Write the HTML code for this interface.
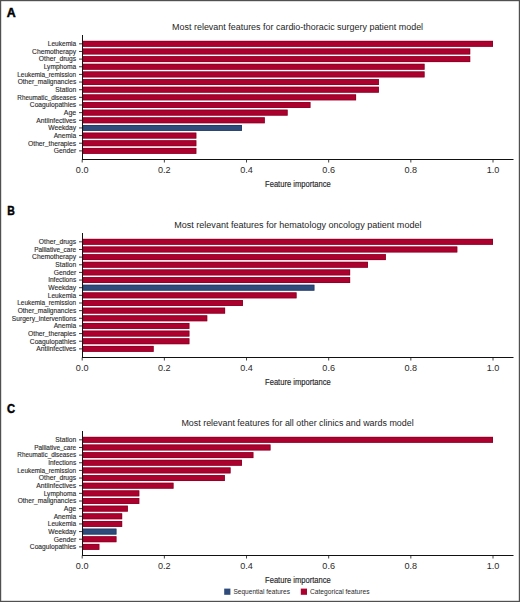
<!DOCTYPE html>
<html><head><meta charset="utf-8"><style>
html,body{margin:0;padding:0;background:#fff;}
svg{display:block;}
</style></head><body>
<svg width="520" height="602" viewBox="0 0 520 602">
<rect x="0" y="0" width="520" height="602" fill="#fff"/>
<text transform="translate(6.8,16.6) scale(1.04,1)" font-size="11.9" font-weight="bold" fill="#000" stroke="#000" stroke-width="0.45" font-family="Liberation Sans, sans-serif">A</text>
<text x="172.10" y="30" font-size="8.9" fill="#1e1e1e" textLength="251.00" lengthAdjust="spacingAndGlyphs" font-family="Liberation Sans, sans-serif">Most relevant features for cardio-thoracic surgery patient model</text>
<rect x="82.5" y="40.87" width="410.50" height="5.90" fill="#ac002f"/>
<rect x="82.9" y="41.27" width="409.70" height="5.10" fill="none" stroke="#80001f" stroke-width="0.8" stroke-opacity="0.7"/>
<line x1="79.00" x2="82.20" y1="43.82" y2="43.82" stroke="#111" stroke-width="0.8"/>
<text x="76.20" y="46.12" font-size="6.6" fill="#2a2a2a" stroke="#2a2a2a" stroke-width="0.12" text-anchor="end" textLength="28.35" lengthAdjust="spacingAndGlyphs" font-family="Liberation Sans, sans-serif">Leukemia</text>
<rect x="82.5" y="48.52" width="387.68" height="5.90" fill="#ac002f"/>
<rect x="82.9" y="48.92" width="386.88" height="5.10" fill="none" stroke="#80001f" stroke-width="0.8" stroke-opacity="0.7"/>
<line x1="79.00" x2="82.20" y1="51.47" y2="51.47" stroke="#111" stroke-width="0.8"/>
<text x="76.20" y="53.77" font-size="6.6" fill="#2a2a2a" stroke="#2a2a2a" stroke-width="0.12" text-anchor="end" textLength="44.15" lengthAdjust="spacingAndGlyphs" font-family="Liberation Sans, sans-serif">Chemotherapy</text>
<rect x="82.5" y="56.16" width="387.68" height="5.90" fill="#ac002f"/>
<rect x="82.9" y="56.56" width="386.88" height="5.10" fill="none" stroke="#80001f" stroke-width="0.8" stroke-opacity="0.7"/>
<line x1="79.00" x2="82.20" y1="59.11" y2="59.11" stroke="#111" stroke-width="0.8"/>
<text x="76.20" y="61.41" font-size="6.6" fill="#2a2a2a" stroke="#2a2a2a" stroke-width="0.12" text-anchor="end" textLength="37.35" lengthAdjust="spacingAndGlyphs" font-family="Liberation Sans, sans-serif">Other<tspan dy="-0.7">_</tspan><tspan dy="0.7">drugs</tspan></text>
<rect x="82.5" y="63.81" width="342.03" height="5.90" fill="#ac002f"/>
<rect x="82.9" y="64.21" width="341.23" height="5.10" fill="none" stroke="#80001f" stroke-width="0.8" stroke-opacity="0.7"/>
<line x1="79.00" x2="82.20" y1="66.76" y2="66.76" stroke="#111" stroke-width="0.8"/>
<text x="76.20" y="69.06" font-size="6.6" fill="#2a2a2a" stroke="#2a2a2a" stroke-width="0.12" text-anchor="end" textLength="32.55" lengthAdjust="spacingAndGlyphs" font-family="Liberation Sans, sans-serif">Lymphoma</text>
<rect x="82.5" y="71.46" width="342.03" height="5.90" fill="#ac002f"/>
<rect x="82.9" y="71.86" width="341.23" height="5.10" fill="none" stroke="#80001f" stroke-width="0.8" stroke-opacity="0.7"/>
<line x1="79.00" x2="82.20" y1="74.41" y2="74.41" stroke="#111" stroke-width="0.8"/>
<text x="76.20" y="76.71" font-size="6.6" fill="#2a2a2a" stroke="#2a2a2a" stroke-width="0.12" text-anchor="end" textLength="58.95" lengthAdjust="spacingAndGlyphs" font-family="Liberation Sans, sans-serif">Leukemia<tspan dy="-0.7">_</tspan><tspan dy="0.7">remission</tspan></text>
<rect x="82.5" y="79.11" width="296.39" height="5.90" fill="#ac002f"/>
<rect x="82.9" y="79.51" width="295.59" height="5.10" fill="none" stroke="#80001f" stroke-width="0.8" stroke-opacity="0.7"/>
<line x1="79.00" x2="82.20" y1="82.06" y2="82.06" stroke="#111" stroke-width="0.8"/>
<text x="76.20" y="84.36" font-size="6.6" fill="#2a2a2a" stroke="#2a2a2a" stroke-width="0.12" text-anchor="end" textLength="58.55" lengthAdjust="spacingAndGlyphs" font-family="Liberation Sans, sans-serif">Other<tspan dy="-0.7">_</tspan><tspan dy="0.7">malignancies</tspan></text>
<rect x="82.5" y="86.75" width="296.39" height="5.90" fill="#ac002f"/>
<rect x="82.9" y="87.15" width="295.59" height="5.10" fill="none" stroke="#80001f" stroke-width="0.8" stroke-opacity="0.7"/>
<line x1="79.00" x2="82.20" y1="89.70" y2="89.70" stroke="#111" stroke-width="0.8"/>
<text x="76.20" y="92.00" font-size="6.6" fill="#2a2a2a" stroke="#2a2a2a" stroke-width="0.12" text-anchor="end" textLength="20.85" lengthAdjust="spacingAndGlyphs" font-family="Liberation Sans, sans-serif">Station</text>
<rect x="82.5" y="94.40" width="273.57" height="5.90" fill="#ac002f"/>
<rect x="82.9" y="94.80" width="272.77" height="5.10" fill="none" stroke="#80001f" stroke-width="0.8" stroke-opacity="0.7"/>
<line x1="79.00" x2="82.20" y1="97.35" y2="97.35" stroke="#111" stroke-width="0.8"/>
<text x="76.20" y="99.65" font-size="6.6" fill="#2a2a2a" stroke="#2a2a2a" stroke-width="0.12" text-anchor="end" textLength="58.85" lengthAdjust="spacingAndGlyphs" font-family="Liberation Sans, sans-serif">Rheumatic<tspan dy="-0.7">_</tspan><tspan dy="0.7">diseases</tspan></text>
<rect x="82.5" y="102.05" width="227.92" height="5.90" fill="#ac002f"/>
<rect x="82.9" y="102.45" width="227.12" height="5.10" fill="none" stroke="#80001f" stroke-width="0.8" stroke-opacity="0.7"/>
<line x1="79.00" x2="82.20" y1="105.00" y2="105.00" stroke="#111" stroke-width="0.8"/>
<text x="76.20" y="107.30" font-size="6.6" fill="#2a2a2a" stroke="#2a2a2a" stroke-width="0.12" text-anchor="end" textLength="46.35" lengthAdjust="spacingAndGlyphs" font-family="Liberation Sans, sans-serif">Coagulopathies</text>
<rect x="82.5" y="109.69" width="205.10" height="5.90" fill="#ac002f"/>
<rect x="82.9" y="110.09" width="204.30" height="5.10" fill="none" stroke="#80001f" stroke-width="0.8" stroke-opacity="0.7"/>
<line x1="79.00" x2="82.20" y1="112.64" y2="112.64" stroke="#111" stroke-width="0.8"/>
<text x="76.20" y="114.94" font-size="6.6" fill="#2a2a2a" stroke="#2a2a2a" stroke-width="0.12" text-anchor="end" textLength="12.35" lengthAdjust="spacingAndGlyphs" font-family="Liberation Sans, sans-serif">Age</text>
<rect x="82.5" y="117.34" width="182.28" height="5.90" fill="#ac002f"/>
<rect x="82.9" y="117.74" width="181.48" height="5.10" fill="none" stroke="#80001f" stroke-width="0.8" stroke-opacity="0.7"/>
<line x1="79.00" x2="82.20" y1="120.29" y2="120.29" stroke="#111" stroke-width="0.8"/>
<text x="76.20" y="122.59" font-size="6.6" fill="#2a2a2a" stroke="#2a2a2a" stroke-width="0.12" text-anchor="end" textLength="39.85" lengthAdjust="spacingAndGlyphs" font-family="Liberation Sans, sans-serif">Antiinfectives</text>
<rect x="82.5" y="124.99" width="159.46" height="5.90" fill="#2e4b7c"/>
<rect x="82.9" y="125.39" width="158.66" height="5.10" fill="none" stroke="#1d3358" stroke-width="0.8" stroke-opacity="0.7"/>
<line x1="79.00" x2="82.20" y1="127.94" y2="127.94" stroke="#111" stroke-width="0.8"/>
<text x="76.20" y="130.24" font-size="6.6" fill="#2a2a2a" stroke="#2a2a2a" stroke-width="0.12" text-anchor="end" textLength="27.85" lengthAdjust="spacingAndGlyphs" font-family="Liberation Sans, sans-serif">Weekday</text>
<rect x="82.5" y="132.64" width="113.81" height="5.90" fill="#ac002f"/>
<rect x="82.9" y="133.04" width="113.01" height="5.10" fill="none" stroke="#80001f" stroke-width="0.8" stroke-opacity="0.7"/>
<line x1="79.00" x2="82.20" y1="135.59" y2="135.59" stroke="#111" stroke-width="0.8"/>
<text x="76.20" y="137.89" font-size="6.6" fill="#2a2a2a" stroke="#2a2a2a" stroke-width="0.12" text-anchor="end" textLength="22.55" lengthAdjust="spacingAndGlyphs" font-family="Liberation Sans, sans-serif">Anemia</text>
<rect x="82.5" y="140.28" width="113.81" height="5.90" fill="#ac002f"/>
<rect x="82.9" y="140.68" width="113.01" height="5.10" fill="none" stroke="#80001f" stroke-width="0.8" stroke-opacity="0.7"/>
<line x1="79.00" x2="82.20" y1="143.23" y2="143.23" stroke="#111" stroke-width="0.8"/>
<text x="76.20" y="145.53" font-size="6.6" fill="#2a2a2a" stroke="#2a2a2a" stroke-width="0.12" text-anchor="end" textLength="48.15" lengthAdjust="spacingAndGlyphs" font-family="Liberation Sans, sans-serif">Other<tspan dy="-0.7">_</tspan><tspan dy="0.7">therapies</tspan></text>
<rect x="82.5" y="147.93" width="113.81" height="5.90" fill="#ac002f"/>
<rect x="82.9" y="148.33" width="113.01" height="5.10" fill="none" stroke="#80001f" stroke-width="0.8" stroke-opacity="0.7"/>
<line x1="79.00" x2="82.20" y1="150.88" y2="150.88" stroke="#111" stroke-width="0.8"/>
<text x="76.20" y="153.18" font-size="6.6" fill="#2a2a2a" stroke="#2a2a2a" stroke-width="0.12" text-anchor="end" textLength="22.55" lengthAdjust="spacingAndGlyphs" font-family="Liberation Sans, sans-serif">Gender</text>
<line x1="82.5" x2="82.5" y1="35" y2="160.0" stroke="#111" stroke-width="1"/>
<line x1="82" x2="513.5" y1="159.5" y2="159.5" stroke="#111" stroke-width="1.1"/>
<line x1="82.20" x2="82.20" y1="159.5" y2="162.5" stroke="#111" stroke-width="0.8"/>
<text x="82.20" y="173.30" font-size="9.1" fill="#2a2a2a" text-anchor="middle" font-family="Liberation Sans, sans-serif">0.0</text>
<line x1="164.36" x2="164.36" y1="159.5" y2="162.5" stroke="#111" stroke-width="0.8"/>
<text x="164.36" y="173.30" font-size="9.1" fill="#2a2a2a" text-anchor="middle" font-family="Liberation Sans, sans-serif">0.2</text>
<line x1="246.52" x2="246.52" y1="159.5" y2="162.5" stroke="#111" stroke-width="0.8"/>
<text x="246.52" y="173.30" font-size="9.1" fill="#2a2a2a" text-anchor="middle" font-family="Liberation Sans, sans-serif">0.4</text>
<line x1="328.68" x2="328.68" y1="159.5" y2="162.5" stroke="#111" stroke-width="0.8"/>
<text x="328.68" y="173.30" font-size="9.1" fill="#2a2a2a" text-anchor="middle" font-family="Liberation Sans, sans-serif">0.6</text>
<line x1="410.84" x2="410.84" y1="159.5" y2="162.5" stroke="#111" stroke-width="0.8"/>
<text x="410.84" y="173.30" font-size="9.1" fill="#2a2a2a" text-anchor="middle" font-family="Liberation Sans, sans-serif">0.8</text>
<line x1="493.00" x2="493.00" y1="159.5" y2="162.5" stroke="#111" stroke-width="0.8"/>
<text x="493.00" y="173.30" font-size="9.1" fill="#2a2a2a" text-anchor="middle" font-family="Liberation Sans, sans-serif">1.0</text>
<text x="297.9" y="186.50" font-size="8.8" fill="#1e1e1e" stroke="#1e1e1e" stroke-width="0.15" text-anchor="middle" textLength="65.7" lengthAdjust="spacingAndGlyphs" font-family="Liberation Sans, sans-serif">Feature importance</text>
<text transform="translate(7.15,214.6) scale(0.88,1)" font-size="11.9" font-weight="bold" fill="#000" stroke="#000" stroke-width="0.45" font-family="Liberation Sans, sans-serif">B</text>
<text x="174.20" y="228" font-size="8.9" fill="#1e1e1e" textLength="247.30" lengthAdjust="spacingAndGlyphs" font-family="Liberation Sans, sans-serif">Most relevant features for hematology oncology patient model</text>
<rect x="82.5" y="238.87" width="410.50" height="5.90" fill="#ac002f"/>
<rect x="82.9" y="239.27" width="409.70" height="5.10" fill="none" stroke="#80001f" stroke-width="0.8" stroke-opacity="0.7"/>
<line x1="79.00" x2="82.20" y1="241.82" y2="241.82" stroke="#111" stroke-width="0.8"/>
<text x="76.20" y="244.12" font-size="6.6" fill="#2a2a2a" stroke="#2a2a2a" stroke-width="0.12" text-anchor="end" textLength="37.35" lengthAdjust="spacingAndGlyphs" font-family="Liberation Sans, sans-serif">Other<tspan dy="-0.7">_</tspan><tspan dy="0.7">drugs</tspan></text>
<rect x="82.5" y="246.52" width="374.78" height="5.90" fill="#ac002f"/>
<rect x="82.9" y="246.92" width="373.98" height="5.10" fill="none" stroke="#80001f" stroke-width="0.8" stroke-opacity="0.7"/>
<line x1="79.00" x2="82.20" y1="249.47" y2="249.47" stroke="#111" stroke-width="0.8"/>
<text x="76.20" y="251.77" font-size="6.6" fill="#2a2a2a" stroke="#2a2a2a" stroke-width="0.12" text-anchor="end" textLength="42.05" lengthAdjust="spacingAndGlyphs" font-family="Liberation Sans, sans-serif">Palliative<tspan dy="-0.7">_</tspan><tspan dy="0.7">care</tspan></text>
<rect x="82.5" y="254.16" width="303.33" height="5.90" fill="#ac002f"/>
<rect x="82.9" y="254.56" width="302.53" height="5.10" fill="none" stroke="#80001f" stroke-width="0.8" stroke-opacity="0.7"/>
<line x1="79.00" x2="82.20" y1="257.11" y2="257.11" stroke="#111" stroke-width="0.8"/>
<text x="76.20" y="259.41" font-size="6.6" fill="#2a2a2a" stroke="#2a2a2a" stroke-width="0.12" text-anchor="end" textLength="44.15" lengthAdjust="spacingAndGlyphs" font-family="Liberation Sans, sans-serif">Chemotherapy</text>
<rect x="82.5" y="261.81" width="285.47" height="5.90" fill="#ac002f"/>
<rect x="82.9" y="262.21" width="284.67" height="5.10" fill="none" stroke="#80001f" stroke-width="0.8" stroke-opacity="0.7"/>
<line x1="79.00" x2="82.20" y1="264.76" y2="264.76" stroke="#111" stroke-width="0.8"/>
<text x="76.20" y="267.06" font-size="6.6" fill="#2a2a2a" stroke="#2a2a2a" stroke-width="0.12" text-anchor="end" textLength="20.85" lengthAdjust="spacingAndGlyphs" font-family="Liberation Sans, sans-serif">Station</text>
<rect x="82.5" y="269.46" width="267.61" height="5.90" fill="#ac002f"/>
<rect x="82.9" y="269.86" width="266.81" height="5.10" fill="none" stroke="#80001f" stroke-width="0.8" stroke-opacity="0.7"/>
<line x1="79.00" x2="82.20" y1="272.41" y2="272.41" stroke="#111" stroke-width="0.8"/>
<text x="76.20" y="274.71" font-size="6.6" fill="#2a2a2a" stroke="#2a2a2a" stroke-width="0.12" text-anchor="end" textLength="22.55" lengthAdjust="spacingAndGlyphs" font-family="Liberation Sans, sans-serif">Gender</text>
<rect x="82.5" y="277.11" width="267.61" height="5.90" fill="#ac002f"/>
<rect x="82.9" y="277.51" width="266.81" height="5.10" fill="none" stroke="#80001f" stroke-width="0.8" stroke-opacity="0.7"/>
<line x1="79.00" x2="82.20" y1="280.06" y2="280.06" stroke="#111" stroke-width="0.8"/>
<text x="76.20" y="282.36" font-size="6.6" fill="#2a2a2a" stroke="#2a2a2a" stroke-width="0.12" text-anchor="end" textLength="28.05" lengthAdjust="spacingAndGlyphs" font-family="Liberation Sans, sans-serif">Infections</text>
<rect x="82.5" y="284.75" width="231.89" height="5.90" fill="#2e4b7c"/>
<rect x="82.9" y="285.15" width="231.09" height="5.10" fill="none" stroke="#1d3358" stroke-width="0.8" stroke-opacity="0.7"/>
<line x1="79.00" x2="82.20" y1="287.70" y2="287.70" stroke="#111" stroke-width="0.8"/>
<text x="76.20" y="290.00" font-size="6.6" fill="#2a2a2a" stroke="#2a2a2a" stroke-width="0.12" text-anchor="end" textLength="27.85" lengthAdjust="spacingAndGlyphs" font-family="Liberation Sans, sans-serif">Weekday</text>
<rect x="82.5" y="292.40" width="214.03" height="5.90" fill="#ac002f"/>
<rect x="82.9" y="292.80" width="213.23" height="5.10" fill="none" stroke="#80001f" stroke-width="0.8" stroke-opacity="0.7"/>
<line x1="79.00" x2="82.20" y1="295.35" y2="295.35" stroke="#111" stroke-width="0.8"/>
<text x="76.20" y="297.65" font-size="6.6" fill="#2a2a2a" stroke="#2a2a2a" stroke-width="0.12" text-anchor="end" textLength="28.35" lengthAdjust="spacingAndGlyphs" font-family="Liberation Sans, sans-serif">Leukemia</text>
<rect x="82.5" y="300.05" width="160.45" height="5.90" fill="#ac002f"/>
<rect x="82.9" y="300.45" width="159.65" height="5.10" fill="none" stroke="#80001f" stroke-width="0.8" stroke-opacity="0.7"/>
<line x1="79.00" x2="82.20" y1="303.00" y2="303.00" stroke="#111" stroke-width="0.8"/>
<text x="76.20" y="305.30" font-size="6.6" fill="#2a2a2a" stroke="#2a2a2a" stroke-width="0.12" text-anchor="end" textLength="58.95" lengthAdjust="spacingAndGlyphs" font-family="Liberation Sans, sans-serif">Leukemia<tspan dy="-0.7">_</tspan><tspan dy="0.7">remission</tspan></text>
<rect x="82.5" y="307.69" width="142.59" height="5.90" fill="#ac002f"/>
<rect x="82.9" y="308.09" width="141.79" height="5.10" fill="none" stroke="#80001f" stroke-width="0.8" stroke-opacity="0.7"/>
<line x1="79.00" x2="82.20" y1="310.64" y2="310.64" stroke="#111" stroke-width="0.8"/>
<text x="76.20" y="312.94" font-size="6.6" fill="#2a2a2a" stroke="#2a2a2a" stroke-width="0.12" text-anchor="end" textLength="58.55" lengthAdjust="spacingAndGlyphs" font-family="Liberation Sans, sans-serif">Other<tspan dy="-0.7">_</tspan><tspan dy="0.7">malignancies</tspan></text>
<rect x="82.5" y="315.34" width="124.73" height="5.90" fill="#ac002f"/>
<rect x="82.9" y="315.74" width="123.93" height="5.10" fill="none" stroke="#80001f" stroke-width="0.8" stroke-opacity="0.7"/>
<line x1="79.00" x2="82.20" y1="318.29" y2="318.29" stroke="#111" stroke-width="0.8"/>
<text x="76.20" y="320.59" font-size="6.6" fill="#2a2a2a" stroke="#2a2a2a" stroke-width="0.12" text-anchor="end" textLength="64.35" lengthAdjust="spacingAndGlyphs" font-family="Liberation Sans, sans-serif">Surgery<tspan dy="-0.7">_</tspan><tspan dy="0.7">interventions</tspan></text>
<rect x="82.5" y="322.99" width="106.87" height="5.90" fill="#ac002f"/>
<rect x="82.9" y="323.39" width="106.07" height="5.10" fill="none" stroke="#80001f" stroke-width="0.8" stroke-opacity="0.7"/>
<line x1="79.00" x2="82.20" y1="325.94" y2="325.94" stroke="#111" stroke-width="0.8"/>
<text x="76.20" y="328.24" font-size="6.6" fill="#2a2a2a" stroke="#2a2a2a" stroke-width="0.12" text-anchor="end" textLength="22.55" lengthAdjust="spacingAndGlyphs" font-family="Liberation Sans, sans-serif">Anemia</text>
<rect x="82.5" y="330.64" width="106.87" height="5.90" fill="#ac002f"/>
<rect x="82.9" y="331.04" width="106.07" height="5.10" fill="none" stroke="#80001f" stroke-width="0.8" stroke-opacity="0.7"/>
<line x1="79.00" x2="82.20" y1="333.59" y2="333.59" stroke="#111" stroke-width="0.8"/>
<text x="76.20" y="335.89" font-size="6.6" fill="#2a2a2a" stroke="#2a2a2a" stroke-width="0.12" text-anchor="end" textLength="48.15" lengthAdjust="spacingAndGlyphs" font-family="Liberation Sans, sans-serif">Other<tspan dy="-0.7">_</tspan><tspan dy="0.7">therapies</tspan></text>
<rect x="82.5" y="338.28" width="106.87" height="5.90" fill="#ac002f"/>
<rect x="82.9" y="338.68" width="106.07" height="5.10" fill="none" stroke="#80001f" stroke-width="0.8" stroke-opacity="0.7"/>
<line x1="79.00" x2="82.20" y1="341.23" y2="341.23" stroke="#111" stroke-width="0.8"/>
<text x="76.20" y="343.53" font-size="6.6" fill="#2a2a2a" stroke="#2a2a2a" stroke-width="0.12" text-anchor="end" textLength="46.35" lengthAdjust="spacingAndGlyphs" font-family="Liberation Sans, sans-serif">Coagulopathies</text>
<rect x="82.5" y="345.93" width="71.14" height="5.90" fill="#ac002f"/>
<rect x="82.9" y="346.33" width="70.34" height="5.10" fill="none" stroke="#80001f" stroke-width="0.8" stroke-opacity="0.7"/>
<line x1="79.00" x2="82.20" y1="348.88" y2="348.88" stroke="#111" stroke-width="0.8"/>
<text x="76.20" y="351.18" font-size="6.6" fill="#2a2a2a" stroke="#2a2a2a" stroke-width="0.12" text-anchor="end" textLength="39.85" lengthAdjust="spacingAndGlyphs" font-family="Liberation Sans, sans-serif">Antiinfectives</text>
<line x1="82.5" x2="82.5" y1="233" y2="358.0" stroke="#111" stroke-width="1"/>
<line x1="82" x2="513.5" y1="357.5" y2="357.5" stroke="#111" stroke-width="1.1"/>
<line x1="82.20" x2="82.20" y1="357.5" y2="360.5" stroke="#111" stroke-width="0.8"/>
<text x="82.20" y="371.30" font-size="9.1" fill="#2a2a2a" text-anchor="middle" font-family="Liberation Sans, sans-serif">0.0</text>
<line x1="164.36" x2="164.36" y1="357.5" y2="360.5" stroke="#111" stroke-width="0.8"/>
<text x="164.36" y="371.30" font-size="9.1" fill="#2a2a2a" text-anchor="middle" font-family="Liberation Sans, sans-serif">0.2</text>
<line x1="246.52" x2="246.52" y1="357.5" y2="360.5" stroke="#111" stroke-width="0.8"/>
<text x="246.52" y="371.30" font-size="9.1" fill="#2a2a2a" text-anchor="middle" font-family="Liberation Sans, sans-serif">0.4</text>
<line x1="328.68" x2="328.68" y1="357.5" y2="360.5" stroke="#111" stroke-width="0.8"/>
<text x="328.68" y="371.30" font-size="9.1" fill="#2a2a2a" text-anchor="middle" font-family="Liberation Sans, sans-serif">0.6</text>
<line x1="410.84" x2="410.84" y1="357.5" y2="360.5" stroke="#111" stroke-width="0.8"/>
<text x="410.84" y="371.30" font-size="9.1" fill="#2a2a2a" text-anchor="middle" font-family="Liberation Sans, sans-serif">0.8</text>
<line x1="493.00" x2="493.00" y1="357.5" y2="360.5" stroke="#111" stroke-width="0.8"/>
<text x="493.00" y="371.30" font-size="9.1" fill="#2a2a2a" text-anchor="middle" font-family="Liberation Sans, sans-serif">1.0</text>
<text x="297.9" y="384.50" font-size="8.8" fill="#1e1e1e" stroke="#1e1e1e" stroke-width="0.15" text-anchor="middle" textLength="65.7" lengthAdjust="spacingAndGlyphs" font-family="Liberation Sans, sans-serif">Feature importance</text>
<text transform="translate(6.95,412.6) scale(0.94,1)" font-size="11.9" font-weight="bold" fill="#000" stroke="#000" stroke-width="0.45" font-family="Liberation Sans, sans-serif">C</text>
<text x="181.40" y="426" font-size="8.9" fill="#1e1e1e" textLength="232.30" lengthAdjust="spacingAndGlyphs" font-family="Liberation Sans, sans-serif">Most relevant features for all other clinics and wards model</text>
<rect x="82.5" y="436.87" width="410.50" height="5.90" fill="#ac002f"/>
<rect x="82.9" y="437.27" width="409.70" height="5.10" fill="none" stroke="#80001f" stroke-width="0.8" stroke-opacity="0.7"/>
<line x1="79.00" x2="82.20" y1="439.82" y2="439.82" stroke="#111" stroke-width="0.8"/>
<text x="76.20" y="442.12" font-size="6.6" fill="#2a2a2a" stroke="#2a2a2a" stroke-width="0.12" text-anchor="end" textLength="20.85" lengthAdjust="spacingAndGlyphs" font-family="Liberation Sans, sans-serif">Station</text>
<rect x="82.5" y="444.52" width="187.98" height="5.90" fill="#ac002f"/>
<rect x="82.9" y="444.92" width="187.18" height="5.10" fill="none" stroke="#80001f" stroke-width="0.8" stroke-opacity="0.7"/>
<line x1="79.00" x2="82.20" y1="447.47" y2="447.47" stroke="#111" stroke-width="0.8"/>
<text x="76.20" y="449.77" font-size="6.6" fill="#2a2a2a" stroke="#2a2a2a" stroke-width="0.12" text-anchor="end" textLength="42.05" lengthAdjust="spacingAndGlyphs" font-family="Liberation Sans, sans-serif">Palliative<tspan dy="-0.7">_</tspan><tspan dy="0.7">care</tspan></text>
<rect x="82.5" y="452.16" width="170.87" height="5.90" fill="#ac002f"/>
<rect x="82.9" y="452.56" width="170.07" height="5.10" fill="none" stroke="#80001f" stroke-width="0.8" stroke-opacity="0.7"/>
<line x1="79.00" x2="82.20" y1="455.11" y2="455.11" stroke="#111" stroke-width="0.8"/>
<text x="76.20" y="457.41" font-size="6.6" fill="#2a2a2a" stroke="#2a2a2a" stroke-width="0.12" text-anchor="end" textLength="58.85" lengthAdjust="spacingAndGlyphs" font-family="Liberation Sans, sans-serif">Rheumatic<tspan dy="-0.7">_</tspan><tspan dy="0.7">diseases</tspan></text>
<rect x="82.5" y="459.81" width="159.46" height="5.90" fill="#ac002f"/>
<rect x="82.9" y="460.21" width="158.66" height="5.10" fill="none" stroke="#80001f" stroke-width="0.8" stroke-opacity="0.7"/>
<line x1="79.00" x2="82.20" y1="462.76" y2="462.76" stroke="#111" stroke-width="0.8"/>
<text x="76.20" y="465.06" font-size="6.6" fill="#2a2a2a" stroke="#2a2a2a" stroke-width="0.12" text-anchor="end" textLength="28.05" lengthAdjust="spacingAndGlyphs" font-family="Liberation Sans, sans-serif">Infections</text>
<rect x="82.5" y="467.46" width="148.04" height="5.90" fill="#ac002f"/>
<rect x="82.9" y="467.86" width="147.24" height="5.10" fill="none" stroke="#80001f" stroke-width="0.8" stroke-opacity="0.7"/>
<line x1="79.00" x2="82.20" y1="470.41" y2="470.41" stroke="#111" stroke-width="0.8"/>
<text x="76.20" y="472.71" font-size="6.6" fill="#2a2a2a" stroke="#2a2a2a" stroke-width="0.12" text-anchor="end" textLength="58.95" lengthAdjust="spacingAndGlyphs" font-family="Liberation Sans, sans-serif">Leukemia<tspan dy="-0.7">_</tspan><tspan dy="0.7">remission</tspan></text>
<rect x="82.5" y="475.11" width="142.34" height="5.90" fill="#ac002f"/>
<rect x="82.9" y="475.51" width="141.54" height="5.10" fill="none" stroke="#80001f" stroke-width="0.8" stroke-opacity="0.7"/>
<line x1="79.00" x2="82.20" y1="478.06" y2="478.06" stroke="#111" stroke-width="0.8"/>
<text x="76.20" y="480.36" font-size="6.6" fill="#2a2a2a" stroke="#2a2a2a" stroke-width="0.12" text-anchor="end" textLength="37.35" lengthAdjust="spacingAndGlyphs" font-family="Liberation Sans, sans-serif">Other<tspan dy="-0.7">_</tspan><tspan dy="0.7">drugs</tspan></text>
<rect x="82.5" y="482.75" width="90.99" height="5.90" fill="#ac002f"/>
<rect x="82.9" y="483.15" width="90.19" height="5.10" fill="none" stroke="#80001f" stroke-width="0.8" stroke-opacity="0.7"/>
<line x1="79.00" x2="82.20" y1="485.70" y2="485.70" stroke="#111" stroke-width="0.8"/>
<text x="76.20" y="488.00" font-size="6.6" fill="#2a2a2a" stroke="#2a2a2a" stroke-width="0.12" text-anchor="end" textLength="39.85" lengthAdjust="spacingAndGlyphs" font-family="Liberation Sans, sans-serif">Antiinfectives</text>
<rect x="82.5" y="490.40" width="56.76" height="5.90" fill="#ac002f"/>
<rect x="82.9" y="490.80" width="55.96" height="5.10" fill="none" stroke="#80001f" stroke-width="0.8" stroke-opacity="0.7"/>
<line x1="79.00" x2="82.20" y1="493.35" y2="493.35" stroke="#111" stroke-width="0.8"/>
<text x="76.20" y="495.65" font-size="6.6" fill="#2a2a2a" stroke="#2a2a2a" stroke-width="0.12" text-anchor="end" textLength="32.55" lengthAdjust="spacingAndGlyphs" font-family="Liberation Sans, sans-serif">Lymphoma</text>
<rect x="82.5" y="498.05" width="56.76" height="5.90" fill="#ac002f"/>
<rect x="82.9" y="498.45" width="55.96" height="5.10" fill="none" stroke="#80001f" stroke-width="0.8" stroke-opacity="0.7"/>
<line x1="79.00" x2="82.20" y1="501.00" y2="501.00" stroke="#111" stroke-width="0.8"/>
<text x="76.20" y="503.30" font-size="6.6" fill="#2a2a2a" stroke="#2a2a2a" stroke-width="0.12" text-anchor="end" textLength="58.55" lengthAdjust="spacingAndGlyphs" font-family="Liberation Sans, sans-serif">Other<tspan dy="-0.7">_</tspan><tspan dy="0.7">malignancies</tspan></text>
<rect x="82.5" y="505.69" width="45.34" height="5.90" fill="#ac002f"/>
<rect x="82.9" y="506.09" width="44.54" height="5.10" fill="none" stroke="#80001f" stroke-width="0.8" stroke-opacity="0.7"/>
<line x1="79.00" x2="82.20" y1="508.64" y2="508.64" stroke="#111" stroke-width="0.8"/>
<text x="76.20" y="510.94" font-size="6.6" fill="#2a2a2a" stroke="#2a2a2a" stroke-width="0.12" text-anchor="end" textLength="12.35" lengthAdjust="spacingAndGlyphs" font-family="Liberation Sans, sans-serif">Age</text>
<rect x="82.5" y="513.34" width="39.64" height="5.90" fill="#ac002f"/>
<rect x="82.9" y="513.74" width="38.84" height="5.10" fill="none" stroke="#80001f" stroke-width="0.8" stroke-opacity="0.7"/>
<line x1="79.00" x2="82.20" y1="516.29" y2="516.29" stroke="#111" stroke-width="0.8"/>
<text x="76.20" y="518.59" font-size="6.6" fill="#2a2a2a" stroke="#2a2a2a" stroke-width="0.12" text-anchor="end" textLength="22.55" lengthAdjust="spacingAndGlyphs" font-family="Liberation Sans, sans-serif">Anemia</text>
<rect x="82.5" y="520.99" width="39.64" height="5.90" fill="#ac002f"/>
<rect x="82.9" y="521.39" width="38.84" height="5.10" fill="none" stroke="#80001f" stroke-width="0.8" stroke-opacity="0.7"/>
<line x1="79.00" x2="82.20" y1="523.94" y2="523.94" stroke="#111" stroke-width="0.8"/>
<text x="76.20" y="526.24" font-size="6.6" fill="#2a2a2a" stroke="#2a2a2a" stroke-width="0.12" text-anchor="end" textLength="28.35" lengthAdjust="spacingAndGlyphs" font-family="Liberation Sans, sans-serif">Leukemia</text>
<rect x="82.5" y="528.64" width="33.93" height="5.90" fill="#2e4b7c"/>
<rect x="82.9" y="529.04" width="33.13" height="5.10" fill="none" stroke="#1d3358" stroke-width="0.8" stroke-opacity="0.7"/>
<line x1="79.00" x2="82.20" y1="531.59" y2="531.59" stroke="#111" stroke-width="0.8"/>
<text x="76.20" y="533.89" font-size="6.6" fill="#2a2a2a" stroke="#2a2a2a" stroke-width="0.12" text-anchor="end" textLength="27.85" lengthAdjust="spacingAndGlyphs" font-family="Liberation Sans, sans-serif">Weekday</text>
<rect x="82.5" y="536.28" width="33.93" height="5.90" fill="#ac002f"/>
<rect x="82.9" y="536.68" width="33.13" height="5.10" fill="none" stroke="#80001f" stroke-width="0.8" stroke-opacity="0.7"/>
<line x1="79.00" x2="82.20" y1="539.23" y2="539.23" stroke="#111" stroke-width="0.8"/>
<text x="76.20" y="541.53" font-size="6.6" fill="#2a2a2a" stroke="#2a2a2a" stroke-width="0.12" text-anchor="end" textLength="22.55" lengthAdjust="spacingAndGlyphs" font-family="Liberation Sans, sans-serif">Gender</text>
<rect x="82.5" y="543.93" width="16.82" height="5.90" fill="#ac002f"/>
<rect x="82.9" y="544.33" width="16.02" height="5.10" fill="none" stroke="#80001f" stroke-width="0.8" stroke-opacity="0.7"/>
<line x1="79.00" x2="82.20" y1="546.88" y2="546.88" stroke="#111" stroke-width="0.8"/>
<text x="76.20" y="549.18" font-size="6.6" fill="#2a2a2a" stroke="#2a2a2a" stroke-width="0.12" text-anchor="end" textLength="46.35" lengthAdjust="spacingAndGlyphs" font-family="Liberation Sans, sans-serif">Coagulopathies</text>
<line x1="82.5" x2="82.5" y1="431" y2="556.0" stroke="#111" stroke-width="1"/>
<line x1="82" x2="513.5" y1="555.5" y2="555.5" stroke="#111" stroke-width="1.1"/>
<line x1="82.20" x2="82.20" y1="555.5" y2="558.5" stroke="#111" stroke-width="0.8"/>
<text x="82.20" y="569.30" font-size="9.1" fill="#2a2a2a" text-anchor="middle" font-family="Liberation Sans, sans-serif">0.0</text>
<line x1="164.36" x2="164.36" y1="555.5" y2="558.5" stroke="#111" stroke-width="0.8"/>
<text x="164.36" y="569.30" font-size="9.1" fill="#2a2a2a" text-anchor="middle" font-family="Liberation Sans, sans-serif">0.2</text>
<line x1="246.52" x2="246.52" y1="555.5" y2="558.5" stroke="#111" stroke-width="0.8"/>
<text x="246.52" y="569.30" font-size="9.1" fill="#2a2a2a" text-anchor="middle" font-family="Liberation Sans, sans-serif">0.4</text>
<line x1="328.68" x2="328.68" y1="555.5" y2="558.5" stroke="#111" stroke-width="0.8"/>
<text x="328.68" y="569.30" font-size="9.1" fill="#2a2a2a" text-anchor="middle" font-family="Liberation Sans, sans-serif">0.6</text>
<line x1="410.84" x2="410.84" y1="555.5" y2="558.5" stroke="#111" stroke-width="0.8"/>
<text x="410.84" y="569.30" font-size="9.1" fill="#2a2a2a" text-anchor="middle" font-family="Liberation Sans, sans-serif">0.8</text>
<line x1="493.00" x2="493.00" y1="555.5" y2="558.5" stroke="#111" stroke-width="0.8"/>
<text x="493.00" y="569.30" font-size="9.1" fill="#2a2a2a" text-anchor="middle" font-family="Liberation Sans, sans-serif">1.0</text>
<text x="297.9" y="582.50" font-size="8.8" fill="#1e1e1e" stroke="#1e1e1e" stroke-width="0.15" text-anchor="middle" textLength="65.7" lengthAdjust="spacingAndGlyphs" font-family="Liberation Sans, sans-serif">Feature importance</text>
<rect x="224.2" y="588.6" width="6.2" height="6.2" fill="#2e4b7c"/>
<text x="233.4" y="593.8" font-size="6.6" fill="#2a2a2a" textLength="56.6" lengthAdjust="spacingAndGlyphs" font-family="Liberation Sans, sans-serif">Sequential features</text>
<rect x="300.8" y="588.6" width="6.2" height="6.2" fill="#ac002f"/>
<text x="310" y="593.8" font-size="6.6" fill="#2a2a2a" textLength="59.5" lengthAdjust="spacingAndGlyphs" font-family="Liberation Sans, sans-serif">Categorical features</text>
<rect x="0.6" y="0.6" width="518.8" height="600.8" fill="none" stroke="#505050" stroke-width="1.2"/>
</svg>
</body></html>
